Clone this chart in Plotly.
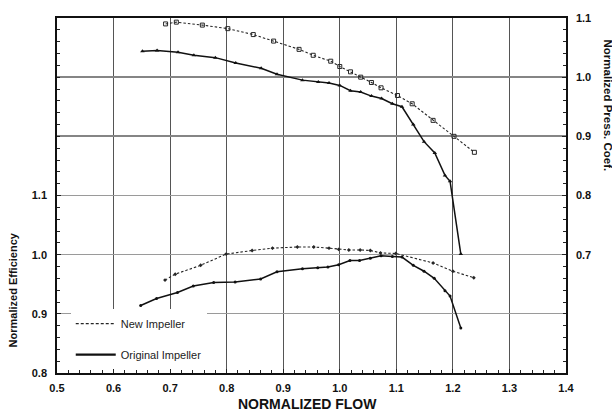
import plotly.graph_objects as go

# Normalized flow tick labels
flow_ticks = [0.5, 0.6, 0.7, 0.8, 0.9, 1.0, 1.1, 1.2, 1.3, 1.4]
eff_ticks = [0.8, 0.9, 1.0, 1.1]
press_ticks = [0.7, 0.8, 0.9, 1.0, 1.1]

# Pressure coefficient curves
flow_new_press = [0.692, 0.711, 0.757, 0.802, 0.847, 0.883, 0.928, 0.953, 0.984, 1.000,
                  1.019, 1.037, 1.056, 1.073, 1.102, 1.128, 1.165, 1.202, 1.238]
press_new = [1.090, 1.093, 1.088, 1.082, 1.072, 1.061, 1.047, 1.037, 1.027, 1.018,
             1.009, 1.000, 0.991, 0.982, 0.969, 0.955, 0.927, 0.900, 0.873]

flow_orig_press = [0.651, 0.677, 0.714, 0.742, 0.780, 0.816, 0.861, 0.889, 0.934, 0.962,
                   0.981, 1.000, 1.019, 1.037, 1.056, 1.074, 1.093, 1.110, 1.130, 1.149,
                   1.168, 1.186, 1.195, 1.214]
press_orig = [1.044, 1.045, 1.042, 1.037, 1.033, 1.024, 1.015, 1.005, 0.995, 0.992,
              0.990, 0.986, 0.977, 0.975, 0.968, 0.964, 0.955, 0.950, 0.920, 0.891,
              0.872, 0.834, 0.824, 0.701]

# Efficiency curves
flow_new_eff = [0.691, 0.709, 0.754, 0.799, 0.845, 0.881, 0.925, 0.954, 0.981, 0.998,
                1.016, 1.036, 1.054, 1.072, 1.099, 1.165, 1.200, 1.237]
eff_new = [0.957, 0.967, 0.982, 1.001, 1.007, 1.011, 1.013, 1.013, 1.011, 1.009,
           1.008, 1.008, 1.007, 1.003, 1.002, 0.986, 0.972, 0.961]

flow_orig_eff = [0.648, 0.676, 0.713, 0.741, 0.777, 0.815, 0.860, 0.889, 0.934, 0.961,
                 0.979, 0.998, 1.018, 1.035, 1.054, 1.073, 1.093, 1.110, 1.130, 1.149,
                 1.167, 1.186, 1.195, 1.214]
eff_orig = [0.914, 0.926, 0.936, 0.947, 0.953, 0.954, 0.959, 0.971, 0.976, 0.978,
            0.979, 0.983, 0.990, 0.990, 0.994, 0.998, 0.997, 0.996, 0.982, 0.972,
            0.960, 0.939, 0.930, 0.876]

FONT = "Liberation Sans, Arial, Helvetica, sans-serif"
DOT = "2.5px,2px"
NEW_COLOR = "#262626"
ORIG_COLOR = "#111111"

fig = go.Figure()

# Efficiency (left axis)
fig.add_trace(go.Scatter(
    x=flow_new_eff, y=eff_new, mode="lines+markers", yaxis="y",
    line=dict(color=NEW_COLOR, width=1.1, dash=DOT),
    marker=dict(symbol="diamond", size=3, color=NEW_COLOR), showlegend=False))
fig.add_trace(go.Scatter(
    x=flow_orig_eff, y=eff_orig, mode="lines+markers", yaxis="y",
    line=dict(color=ORIG_COLOR, width=1.5),
    marker=dict(symbol="circle", size=3, color=ORIG_COLOR), showlegend=False))

# Pressure coefficient (right axes)
fig.add_trace(go.Scatter(
    x=flow_new_press, y=press_new, mode="lines+markers", yaxis="y2",
    line=dict(color=NEW_COLOR, width=1.1, dash=DOT),
    marker=dict(symbol="square-open", size=4, color=NEW_COLOR, line=dict(width=1)),
    showlegend=False))
fig.add_trace(go.Scatter(
    x=flow_orig_press, y=press_orig, mode="lines+markers", yaxis="y3",
    line=dict(color=ORIG_COLOR, width=1.5),
    marker=dict(symbol="triangle-up", size=4, color=ORIG_COLOR), showlegend=False))

# Legend entries
fig.add_trace(go.Scatter(
    x=[None], y=[None], mode="lines", name="New Impeller", legendgroup="a",
    line=dict(color=NEW_COLOR, width=1.1, dash="3px,2px")))
fig.add_trace(go.Scatter(
    x=[None], y=[None], mode="lines", name="Original Impeller", legendgroup="b",
    line=dict(color=ORIG_COLOR, width=2.2)))

tickfont = dict(family=FONT, size=11, color="#111111", weight="bold")
minor = dict(dtick=0.02, ticks="inside", ticklen=3, tickcolor="#222222", showgrid=False)

fig.update_layout(
    width=612, height=415,
    margin=dict(l=57, r=46, t=12, b=42),
    paper_bgcolor="white", plot_bgcolor="white",
    font=dict(family=FONT, color="#111111"),
    xaxis=dict(
        range=[0.5, 1.4], tickvals=flow_ticks, ticktext=[f"{v:.1f}" for v in flow_ticks],
        showgrid=True, gridcolor="#555555", gridwidth=1,
        showline=True, linecolor="#111111", linewidth=1.5, mirror=True,
        ticks="inside", ticklen=4, tickcolor="#222222", minor=minor,
        tickfont=tickfont, ticklabelstandoff=4, zeroline=False),
    yaxis=dict(
        range=[0.8, 1.4], tickvals=eff_ticks, ticktext=[f"{v:.1f}" for v in eff_ticks],
        showgrid=True, gridcolor="#9a9a9a", gridwidth=1,
        showline=True, linecolor="#111111", linewidth=1.5,
        ticks="inside", ticklen=4, tickcolor="#222222", minor=minor,
        tickfont=tickfont, ticklabelstandoff=6, zeroline=False),
    yaxis2=dict(
        range=[0.5, 1.1], overlaying="y", side="right",
        tickvals=press_ticks, ticktext=[f"{v:.1f}" for v in press_ticks],
        showgrid=False, showline=True, linecolor="#111111", linewidth=1.5,
        ticks="inside", ticklen=4, tickcolor="#222222", minor=minor,
        tickfont=tickfont, ticklabelstandoff=6, zeroline=False),
    yaxis3=dict(
        range=[0.5, 1.1], overlaying="y", side="right",
        tickvals=[0.9, 1.0], showticklabels=False, ticks="",
        showgrid=True, gridcolor="#858585", gridwidth=2,
        showline=False, zeroline=False),
    legend=dict(
        x=0.027, y=0.18, xanchor="left", yanchor="top",
        bgcolor="white", borderwidth=0, tracegroupgap=12, itemwidth=40,
        font=dict(family=FONT, size=11, color="#222222")),
    annotations=[
        dict(text="<b>NORMALIZED FLOW</b>", xref="paper", yref="paper",
             x=0.492, y=-0.0886, xanchor="center", yanchor="middle",
             showarrow=False, font=dict(family=FONT, size=14, color="#111111")),
        dict(text="<b>Normalized Efficiency</b>", xref="paper", yref="paper",
             x=-0.0864, y=0.2327, xanchor="center", yanchor="middle", textangle=-90,
             showarrow=False, font=dict(family=FONT, size=11, color="#111111")),
        dict(text="<b>Normalized Press. Coef.</b>", xref="paper", yref="paper",
             x=1.0825, y=0.7535, xanchor="center", yanchor="middle", textangle=90,
             showarrow=False, font=dict(family=FONT, size=11.5, color="#111111")),
    ],
)

fig.write_html("out.html")
